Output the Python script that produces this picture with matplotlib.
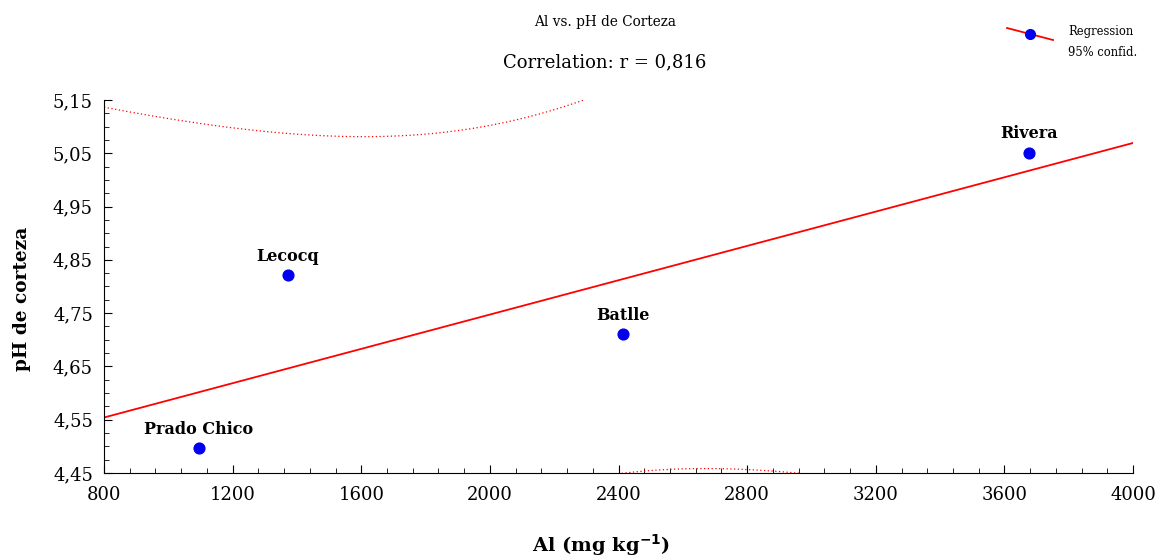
import numpy as np
import matplotlib
matplotlib.use("Agg")
import matplotlib.pyplot as plt
from matplotlib.lines import Line2D
from matplotlib.ticker import FixedLocator, MultipleLocator, FuncFormatter

# Al concentration vs. bark pH per site
sites = ["Prado Chico", "Lecocq", "Batlle", "Rivera"]
al = np.array([1095, 1372, 2413, 3676])
ph = np.array([4.496, 4.821, 4.711, 5.051])

plt.rcParams["font.family"] = ["DejaVu Serif"]

# least squares fit + 95% confidence band of the mean
n = len(al)
xm, ym = al.mean(), ph.mean()
sxx = ((al - xm) ** 2).sum()
sxy = ((al - xm) * (ph - ym)).sum()
syy = ((ph - ym) ** 2).sum()
slope = sxy / sxx
icpt = ym - slope * xm
r = sxy / np.sqrt(sxx * syy)
s = np.sqrt(((ph - (icpt + slope * al)) ** 2).sum() / (n - 2))
t95 = 4.303  # t(0.975, df=2)

xx = np.linspace(800, 4000, 400)
yy = icpt + slope * xx
half = t95 * s * np.sqrt(1 / n + (xx - xm) ** 2 / sxx)

fig = plt.figure(figsize=(11.61, 5.57), dpi=100)
ax = fig.add_axes([0.0896, 0.1508, 0.8864, 0.6697])

ax.plot(xx, yy, color="red", lw=1.3)
ax.plot(xx, yy + half, color="red", lw=0.9, ls=(0, (1, 2)))
ax.plot(xx, yy - half, color="red", lw=0.9, ls=(0, (1, 2)))
ax.scatter(al, ph, s=60, color="#0000ee", zorder=3)

for name, x, y in zip(sites, al, ph):
    ax.annotate(name, (x, y), xytext=(0, 7.5), textcoords="offset points",
                ha="center", va="bottom", fontsize=11.5, fontweight="bold")

ax.set_xlim(800, 4000)
ax.set_ylim(4.45, 5.15)
ax.xaxis.set_major_locator(MultipleLocator(400))
ax.xaxis.set_minor_locator(MultipleLocator(80))
ax.yaxis.set_major_locator(FixedLocator(np.arange(4.45, 5.16, 0.1)))
ax.yaxis.set_minor_locator(FixedLocator(np.arange(4.45, 5.16, 0.025)))
ax.yaxis.set_major_formatter(FuncFormatter(lambda v, p: f"{v:.2f}".replace(".", ",")))
ax.tick_params(which="both", direction="in", labelsize=13)
ax.tick_params(which="major", length=6)
ax.tick_params(which="minor", length=3.5)
ax.tick_params(axis="x", pad=9)
ax.tick_params(axis="y", pad=8)
for side in ["top", "right"]:
    ax.spines[side].set_visible(False)

ax.set_xlabel("Al (mg kg$^{\\mathbf{-1}}$)", fontsize=14, fontweight="bold")
ax.set_ylabel("pH de corteza", fontsize=13.3, fontweight="bold")
ax.xaxis.set_label_coords(0.483, -0.158)
ax.yaxis.set_label_coords(-0.071, 0.466)

fig.text(0.521, 0.96, "Al vs. pH de Corteza", ha="center", va="center", fontsize=9.8)
fig.text(0.521, 0.888, "Correlation: r = " + f"{r:.3f}".replace(".", ","),
         ha="center", va="center", fontsize=13)

# legend key: sloped red line with a blue dot
fig.add_artist(Line2D([0.8674, 0.9070], [0.9497, 0.9282], color="red", lw=1.3,
                      transform=fig.transFigure))
fig.add_artist(Line2D([0.8872], [0.9390], marker="o", markersize=7,
                      color="#0000ee", transform=fig.transFigure))
fig.text(0.9199, 0.955, "Regression\n95% confid.", ha="left", va="top",
         fontsize=8.3, linespacing=1.8)

fig.savefig("out.png", dpi=100)
